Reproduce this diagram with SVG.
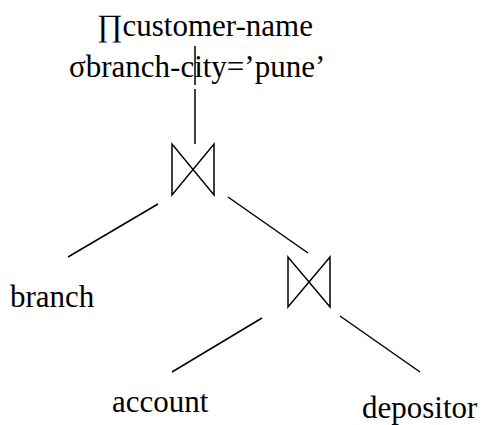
<svg xmlns="http://www.w3.org/2000/svg" width="482" height="425" viewBox="0 0 482 425">
<style>
text{font-family:"Liberation Serif","Times New Roman",serif;font-size:31px;fill:#000}
.ln{stroke:#000;stroke-width:1.5;fill:none}
</style>
<rect width="482" height="425" fill="#fff"/>
<g id="connectors">
<line class="ln" x1="195" y1="46" x2="195" y2="85"/>
<line class="ln" x1="195" y1="89" x2="195" y2="144"/>
<line class="ln" x1="158" y1="204" x2="68" y2="257"/>
<line class="ln" x1="228" y1="197" x2="308" y2="253"/>
<line class="ln" x1="262" y1="318" x2="172" y2="372"/>
<line class="ln" x1="340" y1="316" x2="420" y2="372"/>
</g>
<g id="projection"><text x="97" y="36">∏customer-name</text></g>
<g id="selection"><text x="69" y="77">σbranch-city=’pune’</text></g>
<g id="join1"><path class="ln" d="M172,144 L172,195 L214,144 L214,195 Z"/></g>
<g id="join2"><path class="ln" d="M288,257 L288,307 L330,257 L330,307 Z"/></g>
<g id="branch"><text x="10" y="307">branch</text></g>
<g id="account"><text x="112" y="412">account</text></g>
<g id="depositor"><text x="362" y="418">depositor</text></g>
</svg>
